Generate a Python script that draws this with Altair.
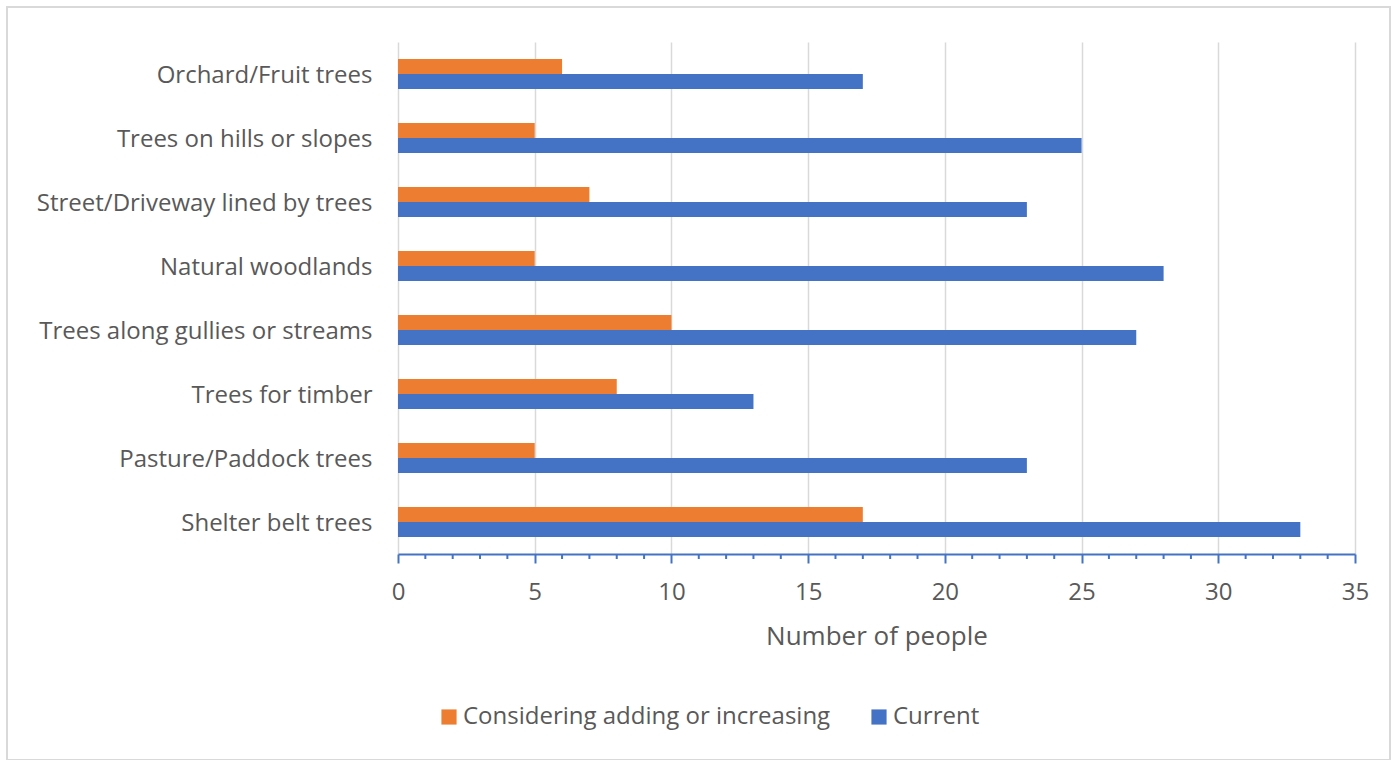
import altair as alt
import pandas as pd

categories = [
    "Orchard/Fruit trees",
    "Trees on hills or slopes",
    "Street/Driveway lined by trees",
    "Natural woodlands",
    "Trees along gullies or streams",
    "Trees for timber",
    "Pasture/Paddock trees",
    "Shelter belt trees",
]
considering = [6, 5, 7, 5, 10, 8, 5, 17]
current = [17, 25, 23, 28, 27, 13, 23, 33]
series = ["Considering adding or increasing", "Current"]
colors = ["#ED7D31", "#4472C4"]
major_ticks = [0, 5, 10, 15, 20, 25, 30, 35]
minor_ticks = [v for v in range(0, 36) if v % 5 != 0]

rows = []
for cat, a, b in zip(categories, considering, current):
    rows.append({"category": cat, "series": series[0], "people": a})
    rows.append({"category": cat, "series": series[1], "people": b})
df = pd.DataFrame(rows)

FONT = "Open Sans"
TEXT = "#595959"
AXIS_BLUE = "#4472C4"

x_scale = alt.Scale(domain=[0, 35], nice=False, zero=True)

bars = alt.Chart(df).mark_bar(size=15).encode(
    x=alt.X(
        "people:Q",
        scale=x_scale,
        axis=alt.Axis(
            values=major_ticks,
            title="Number of people",
            titleFont=FONT,
            titleFontSize=26,
            titleFontWeight="normal",
            titleColor=TEXT,
            titlePadding=19,
            labelFont=FONT,
            labelFontSize=24,
            labelColor=TEXT,
            labelPadding=17,
            labelFlush=False,
            grid=True,
            gridColor="#D9D9D9",
            gridWidth=1.5,
            domainColor=AXIS_BLUE,
            domainWidth=2,
            tickColor=AXIS_BLUE,
            tickWidth=2,
            tickSize=9,
        ),
    ),
    y=alt.Y(
        "category:N",
        sort=categories,
        scale=alt.Scale(paddingInner=0.53, paddingOuter=0.265),
        axis=alt.Axis(
            title=None,
            labelFont=FONT,
            labelFontSize=24,
            labelColor=TEXT,
            labelPadding=26,
            labelOffset=2,
            ticks=False,
            domain=False,
            grid=False,
            labelLimit=500,
        ),
    ),
    yOffset=alt.YOffset("series:N", sort=series),
    color=alt.Color(
        "series:N",
        sort=series,
        scale=alt.Scale(domain=series, range=colors),
        legend=alt.Legend(
            title=None,
            orient="none",
            legendX=39,
            legendY=663,
            direction="horizontal",
            symbolType="square",
            symbolSize=230,
            symbolStrokeWidth=0,
            labelFont=FONT,
            labelFontSize=24,
            labelColor=TEXT,
            labelOffset=2,
            labelLimit=600,
            columnPadding=36,
        ),
    ),
)

minor = alt.Chart(pd.DataFrame({"v": minor_ticks})).mark_rule(
    color=AXIS_BLUE, strokeWidth=2
).encode(
    x=alt.X("v:Q", scale=x_scale),
    y=alt.value(512),
    y2=alt.value(517),
)

border = alt.Chart(pd.DataFrame({"b": [0]})).mark_rect(
    fill=None, stroke="#D9D9D9", strokeWidth=2
).encode(
    x=alt.value(-391),
    x2=alt.value(992),
    y=alt.value(-35),
    y2=alt.value(718),
)

chart = (
    alt.layer(border, bars, minor)
    .properties(
        width=957,
        height=512,
        padding={"left": 398, "top": 42, "right": 36, "bottom": 206},
        autosize=alt.AutoSizeParams(type="none"),
        background="white",
    )
    .configure_view(stroke=None)
)

chart.save("out.html", embed_options={"renderer": "svg", "actions": False})
